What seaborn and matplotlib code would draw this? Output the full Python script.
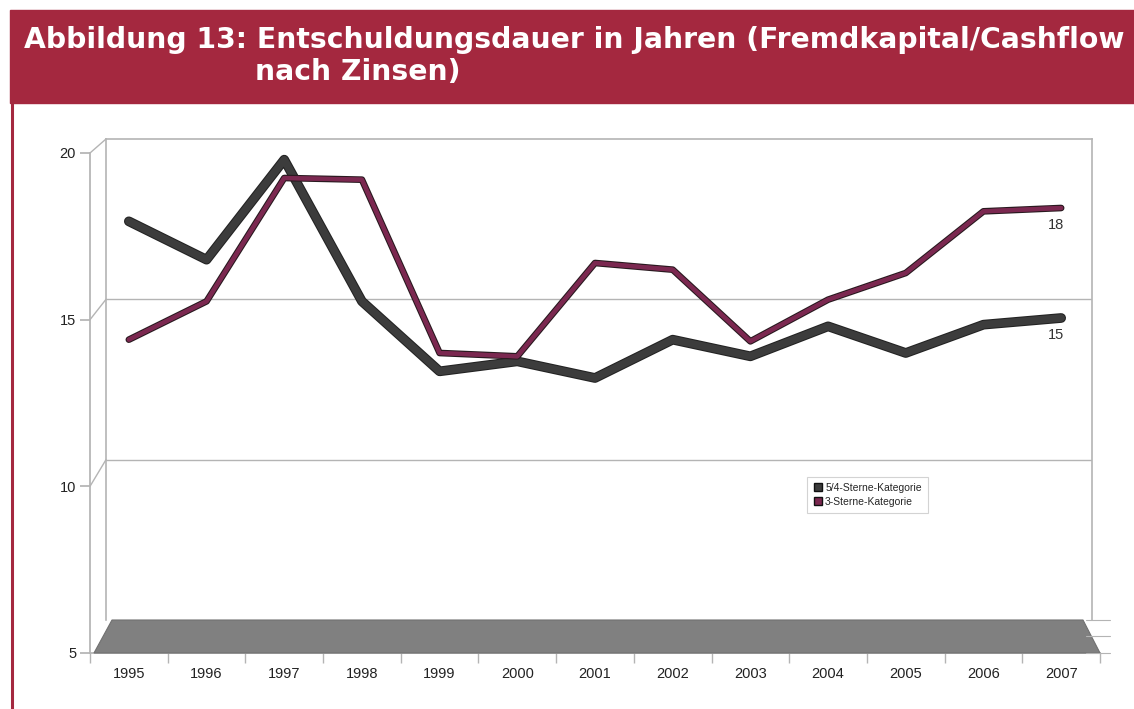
"""
Abbildung 13: Entschuldungsdauer in Jahren (Fremdkapital/Cashflow nach Zinsen).
Pseudo-3D line chart recreated with seaborn/matplotlib.
"""

import matplotlib.pyplot as plt
import numpy as np
import pandas as pd
import seaborn as sns
from matplotlib import patheffects
from matplotlib.lines import Line2D
from matplotlib.patches import Patch, Polygon, Rectangle


YEARS = ["1995", "1996", "1997", "1998", "1999", "2000", "2001",
         "2002", "2003", "2004", "2005", "2006", "2007"]
STARS_5_4 = [17.95, 16.8, 19.8, 15.55, 13.45, 13.75, 13.25,
             14.4, 13.9, 14.8, 14.0, 14.85, 15.05]
STARS_3 = [14.4, 15.55, 19.25, 19.2, 14.0, 13.9, 16.7,
           16.5, 14.35, 15.6, 16.4, 18.25, 18.35]
SERIES_NAMES = ["5/4-Sterne-Kategorie", "3-Sterne-Kategorie"]
END_LABELS = ["15", "18"]
Y_TICKS = [5, 10, 15, 20]

TITLE_LINE_1 = "Abbildung 13: Entschuldungsdauer in Jahren (Fremdkapital/Cashflow"
TITLE_LINE_2 = "nach Zinsen)"

W, H = 1134, 709
MAROON = "#a4283f"
DARK = "#3c3c3c"
WINE = "#7b2850"
GRID = "#b4b4b4"

sns.set_theme(style="white")
plt.rcParams["font.family"] = ["Liberation Sans", "DejaVu Sans"]


def fx(x):
    return x / W


def fy(y):
    return 1 - y / H


def box(left, top, right, bottom):
    return [fx(left), fy(bottom), fx(right) - fx(left), fy(top) - fy(bottom)]


def fig_line(fig, xs, ys, **kw):
    fig.add_artist(Line2D([fx(x) for x in xs], [fy(y) for y in ys],
                          transform=fig.transFigure, **kw))


def main() -> None:
    df = pd.DataFrame({"Jahr": YEARS * 2,
                       "Wert": STARS_5_4 + STARS_3,
                       "Kategorie": [SERIES_NAMES[0]] * len(YEARS) + [SERIES_NAMES[1]] * len(YEARS)})
    df["pos"] = list(range(len(YEARS))) * 2

    fig = plt.figure(figsize=(W / 100, H / 100), dpi=100)

    # title banner and frame
    fig.add_artist(Rectangle((fx(10), fy(103)), fx(W) - fx(10), fy(10) - fy(103),
                             transform=fig.transFigure, color=MAROON, zorder=0))
    fig_line(fig, [12, 12], [103, H], color=MAROON, lw=2.2)
    fig.text(fx(24), fy(40), TITLE_LINE_1, color="white", fontsize=20.3,
             fontweight="bold", family="DejaVu Sans", va="center", ha="left")
    fig.text(fx(255), fy(72), TITLE_LINE_2, color="white", fontsize=20.3,
             fontweight="bold", family="DejaVu Sans", va="center", ha="left")

    # back wall
    back = fig.add_axes(box(106, 139, 1092, 620))
    back.set_xlim(0, 1)
    back.set_ylim(5, 20)
    back.set_xticks([])
    back.set_yticks([10, 15])
    back.set_yticklabels([])
    back.tick_params(left=False)
    back.grid(axis="y", color=GRID, lw=1)
    for side in ["top", "left", "right"]:
        back.spines[side].set_color(GRID)
        back.spines[side].set_linewidth(1.2)
    back.spines["bottom"].set_visible(False)

    # floor
    floor = Polygon([(fx(94), fy(653)), (fx(112), fy(620)), (fx(1083), fy(620)), (fx(1100), fy(653))],
                    closed=True, transform=fig.transFigure, facecolor="#808080",
                    edgecolor="#707070", lw=0.8, zorder=1)
    fig.add_artist(floor)
    for y in [620, 636, 653]:
        fig_line(fig, [1086, 1110], [y, y], color=GRID, lw=0.8)

    # front axes with the data
    ax = fig.add_axes(box(90, 153, 1100, 653))
    ax.patch.set_alpha(0)
    ax.set_xlim(-0.5, len(YEARS) - 0.5)
    ax.set_ylim(5, 20)

    # depth connectors from the front axis to the back wall
    for val in Y_TICKS[1:]:
        y_front = 653 - (val - 5) / 15 * 500
        y_back = 620 - (val - 5) / 15 * 481
        fig_line(fig, [90, 106], [y_front, y_back], color=GRID, lw=1)

    sns.lineplot(data=df[df["Kategorie"] == SERIES_NAMES[0]], x="pos", y="Wert", ax=ax,
                 color=DARK, lw=5.5, legend=False, zorder=4,
                 path_effects=[patheffects.withStroke(linewidth=7, foreground="#222222")])
    sns.lineplot(data=df[df["Kategorie"] == SERIES_NAMES[1]], x="pos", y="Wert", ax=ax,
                 color=WINE, lw=3.0, legend=False, zorder=5,
                 path_effects=[patheffects.withStroke(linewidth=4.8, foreground="#2a1a20"),
                               patheffects.Normal()])

    for values, text in zip([STARS_5_4, STARS_3], END_LABELS):
        ax.annotate(text, (len(YEARS) - 1, values[-1]), xytext=(-4, -12),
                    textcoords="offset points", ha="center", va="center",
                    fontsize=10.5, color="#333333")

    ax.set_xticks(range(len(YEARS)))
    ax.set_xticklabels(YEARS, fontsize=10.5, color="#222222")
    ax.set_xticks(np.arange(-0.5, len(YEARS), 1), minor=True)
    ax.tick_params(axis="x", which="major", length=0, pad=10)
    ax.tick_params(axis="x", which="minor", length=7, color=GRID, bottom=True, direction="out")
    ax.set_yticks(Y_TICKS)
    ax.set_yticklabels([str(v) for v in Y_TICKS], fontsize=10.5, color="#222222")
    ax.tick_params(axis="y", length=7, color=GRID, left=True, direction="out", pad=3)
    ax.set_xlabel("")
    ax.set_ylabel("")
    for side in ["top", "right"]:
        ax.spines[side].set_visible(False)
    ax.spines["left"].set_color(GRID)
    ax.spines["bottom"].set_color(GRID)

    handles = [Patch(facecolor=DARK, edgecolor="#111111", label=SERIES_NAMES[0]),
               Patch(facecolor=WINE, edgecolor="#111111", label=SERIES_NAMES[1])]
    leg = ax.legend(handles=handles, loc="center", bbox_to_anchor=(0.77, 0.316),
                    fontsize=7.5, frameon=True, fancybox=False, handlelength=0.8,
                    handleheight=0.8, handletextpad=0.3, borderpad=0.6, labelspacing=0.4)
    leg.get_frame().set_edgecolor("#c8c8c8")
    leg.get_frame().set_linewidth(0.8)

    fig.savefig("out.png", dpi=100)
    plt.close(fig)


if __name__ == "__main__":
    main()
